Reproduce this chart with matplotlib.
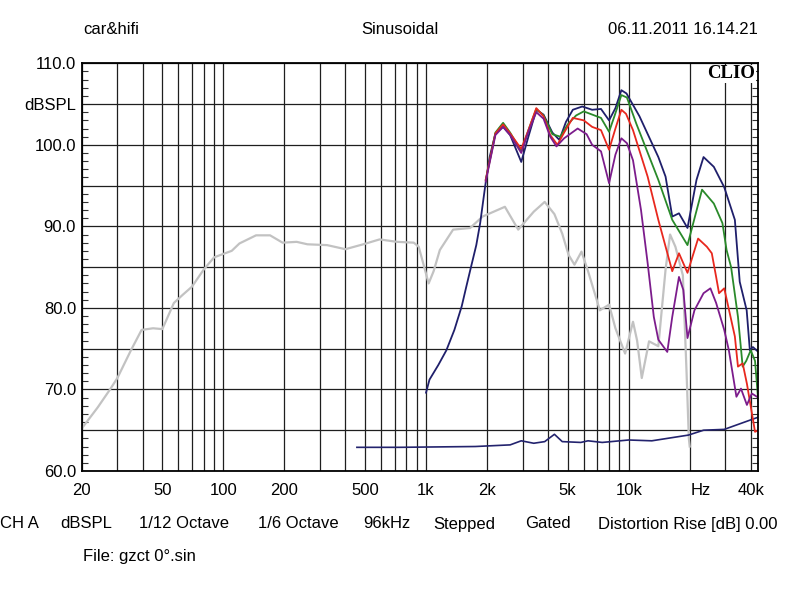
import matplotlib
matplotlib.use("Agg")
import matplotlib.pyplot as plt
import matplotlib.transforms as mtrans
import numpy as np

plt.rcParams['font.family'] = ['Liberation Sans', 'DejaVu Sans']

# grey curve (reference driver)
grey_f = [20, 24, 27.6, 30, 35, 39.5, 45, 50, 57, 63, 70, 80, 90, 110, 120, 145, 170, 196,
          230, 260, 325, 400, 490, 590, 720, 870, 920, 980, 1030, 1090, 1170, 1360, 1650,
          1900, 2450, 2850, 3400, 3850, 4300, 4700, 5050, 5400, 5850, 6300, 6950, 7200,
          8000, 8600, 9600, 10500, 11000, 11600, 12600, 14000, 15200, 16000, 17000, 18500,
          19300, 19800, 20000]
grey_db = [65.2, 67.8, 70.0, 71.4, 74.8, 77.3, 77.5, 77.4, 80.6, 81.6, 82.6, 84.7, 86.2, 87.0,
           87.9, 88.9, 88.9, 88.0, 88.1, 87.8, 87.7, 87.2, 87.8, 88.4, 88.1, 88.0, 87.5, 85.0,
           83.0, 84.5, 87.1, 89.6, 89.8, 91.2, 92.4, 89.6, 91.8, 93.0, 91.5, 89.1, 86.5, 85.3,
           86.9, 84.5, 81.0, 79.7, 80.4, 77.5, 74.4, 78.3, 76.0, 71.4, 75.9, 75.3, 84.7, 89.0,
           87.5, 84.0, 72.0, 64.0, 63.0]

# navy 0 deg
navy_f = [1000, 1040, 1150, 1260, 1380, 1500, 1580, 1670, 1770, 1850, 1960, 2060, 2200, 2400,
          2600, 2950, 3200, 3500, 3800, 4200, 4550, 4900, 5300, 5900, 6600, 7300, 8000, 8600,
          9200, 9750, 11300, 14000, 15200, 16400, 17700, 19500, 21600, 23400, 26300, 29600,
          33400, 35300, 38200, 39600, 41000, 43600]
navy_db = [69.6, 71.2, 73.0, 74.8, 77.3, 80.2, 82.6, 85.1, 87.7, 90.4, 95.0, 98.5, 101.4, 102.2,
           101.2, 97.9, 101.0, 104.3, 103.7, 101.5, 100.6, 102.8, 104.3, 104.7, 104.3, 104.4,
           103.0, 104.5, 106.7, 106.3, 103.5, 98.5, 96.1, 91.2, 91.6, 89.8, 95.7, 98.5, 97.3,
           94.8, 90.8, 83.2, 79.7, 74.8, 75.2, 74.6]

# off-axis curves
green_f = [1970, 2100, 2200, 2400, 2600, 2950, 3200, 3500, 3800, 4200, 4600, 5000, 5500, 6000,
           7300, 8000, 8500, 9200, 9800, 10900, 14000, 16400, 19500, 23000, 26300, 29000, 30400,
           32000, 34600, 36500, 38000, 40000, 42000, 43600]
green_db = [95.7, 99.0, 101.5, 102.7, 101.5, 99.2, 101.8, 104.4, 103.6, 101.3, 101.0, 102.5,
            103.6, 104.1, 103.3, 101.6, 103.5, 106.1, 105.8, 102.6, 95.7, 90.8, 87.7, 94.5,
            92.8, 90.4, 87.1, 85.0, 78.9, 72.8, 73.5, 74.8, 73.5, 68.5]

red_f = [1970, 2100, 2200, 2400, 2600, 2950, 3200, 3500, 3800, 4100, 4450, 4800, 5300, 6000,
         6600, 7300, 8000, 8600, 9200, 9700, 10500, 12400, 14000, 16400, 17700, 19500, 22000,
         24300, 25700, 27000, 27900, 29600, 33400, 34600, 36500, 38300, 42000, 43600]
red_db = [95.7, 99.0, 101.4, 102.5, 101.4, 99.5, 101.8, 104.5, 103.5, 101.2, 100.0, 101.5,
          103.3, 103.0, 102.2, 101.8, 99.4, 102.0, 104.3, 103.8, 101.8, 96.1, 90.8, 84.5, 86.7,
          84.3, 88.5, 87.5, 86.7, 83.8, 81.8, 82.4, 76.5, 72.8, 73.2, 70.7, 64.8, 65.0]

purple_f = [1970, 2100, 2200, 2400, 2600, 2950, 3200, 3500, 3800, 4100, 4400, 4800, 5600, 6200,
            6600, 7300, 8000, 8600, 9200, 9800, 10500, 11500, 12400, 13300, 14000, 15500,
            16400, 17700, 18600, 19500, 21100, 23400, 25300, 27000, 29600, 31200, 34000, 35800,
            38300, 40500, 43600]
purple_db = [95.5, 98.8, 101.2, 102.2, 101.2, 99.0, 101.6, 104.0, 103.2, 101.0, 99.8, 100.8,
             102.0, 101.3, 100.0, 99.2, 95.3, 98.8, 100.8, 100.2, 98.1, 92.0, 85.5, 78.9, 76.1,
             74.6, 78.9, 83.8, 82.2, 76.3, 79.7, 81.8, 82.4, 80.6, 77.3, 74.8, 69.1, 70.1,
             68.1, 69.5, 69.0]

# low navy trace
dist_f = [456, 740, 1750, 2600, 2950, 3400, 3850, 4300, 4700, 5800, 6300, 7400, 10000, 13000,
          19700, 23400, 29600, 43600]
dist_db = [62.9, 62.9, 63.0, 63.2, 63.7, 63.4, 63.6, 64.5, 63.6, 63.5, 63.7, 63.5, 63.8, 63.7,
           64.4, 65.0, 65.1, 66.6]

grid_f = [20, 30, 40, 50, 60, 70, 80, 90, 100, 200, 300, 400, 500, 600, 700, 800, 900,
          1000, 2000, 3000, 4000, 5000, 6000, 7000, 8000, 9000, 10000, 20000, 30000, 40000]
x_labels = {20: '20', 50: '50', 100: '100', 200: '200', 500: '500', 1000: '1k', 2000: '2k',
            5000: '5k', 10000: '10k', 20000: 'Hz', 40000: '40k'}
y_ticks = [60, 65, 70, 75, 80, 85, 90, 95, 100, 105, 110]
y_labels = ['60.0', '', '70.0', '', '80.0', '', '90.0', '', '100.0', 'dBSPL', '110.0']

fig = plt.figure(figsize=(8, 5.97), dpi=100)
ax = fig.add_axes([0.1021, 0.2111, 0.8458, 0.6829])

ax.plot(grey_f, grey_db, color='#c2c2c2', lw=1.6, zorder=3)
ax.plot(dist_f, dist_db, color='#23236e', lw=1.2, zorder=4)
ax.plot(navy_f, navy_db, color='#1f1f6b', lw=1.3, zorder=4)
ax.plot(green_f, green_db, color='#2a8a2a', lw=1.3, zorder=5)
ax.plot(red_f, red_db, color='#e8281e', lw=1.3, zorder=6)
ax.plot(purple_f, purple_db, color='#7c1c8c', lw=1.3, zorder=7)

ax.set_xscale('log')
ax.set_xlim(20, 43600)
ax.set_ylim(60, 110)

ax.xaxis.set_major_locator(matplotlib.ticker.FixedLocator(grid_f))
ax.xaxis.set_minor_locator(matplotlib.ticker.NullLocator())
ax.set_xticklabels([x_labels.get(f, '') for f in grid_f])
ax.set_yticks(y_ticks)
ax.set_yticklabels(y_labels)
ax.set_yticks(np.arange(60, 111, 1), minor=True)

ax.grid(True, which='major', color='#1e1e1e', lw=0.9, zorder=1)
ax.tick_params(axis='x', which='major', length=0, pad=9, labelsize=12)
ax.tick_params(axis='y', which='major', length=0, pad=4, labelsize=12)
ax.tick_params(axis='y', which='minor', direction='in', length=4, width=0.8,
               left=True, right=True, color='#333333')
for s in ax.spines.values():
    s.set_linewidth(1.3)
    s.set_color('black')
    s.set_zorder(10)

# shift "Hz" a bit to the right like the original
for lab in ax.get_xticklabels():
    if lab.get_text() == 'Hz':
        lab.set_transform(lab.get_transform() + mtrans.ScaledTranslation(0.11, 0, fig.dpi_scale_trans))

ax.text(0.995, 0.995, 'CLIO', transform=ax.transAxes, ha='right', va='top',
        family='Liberation Serif', weight='bold', fontsize=13.5, zorder=11,
        bbox=dict(facecolor='white', edgecolor='none', pad=0.5))

fig.text(83 / 800, 1 - 30 / 597, 'car&hifi', ha='left', va='center', fontsize=12)
fig.text(400 / 800, 1 - 30 / 597, 'Sinusoidal', ha='center', va='center', fontsize=12)
fig.text(758 / 800, 1 - 30 / 597, '06.11.2011 16.14.21', ha='right', va='center', fontsize=12)

info = [(0, 'CH A'), (60, 'dBSPL'), (139, '1/12 Octave'), (258, '1/6 Octave'), (363, '96kHz'),
        (433, 'Stepped'), (525, 'Gated'), (598, 'Distortion Rise [dB] 0.00')]
for px, t in info:
    fig.text(px / 800, 1 - 524 / 597, t, ha='left', va='center', fontsize=12)
fig.text(83 / 800, 1 - 557 / 597, 'File: gzct 0\u00b0.sin', ha='left', va='center', fontsize=12)

fig.savefig('out.png', dpi=100, facecolor='white')
